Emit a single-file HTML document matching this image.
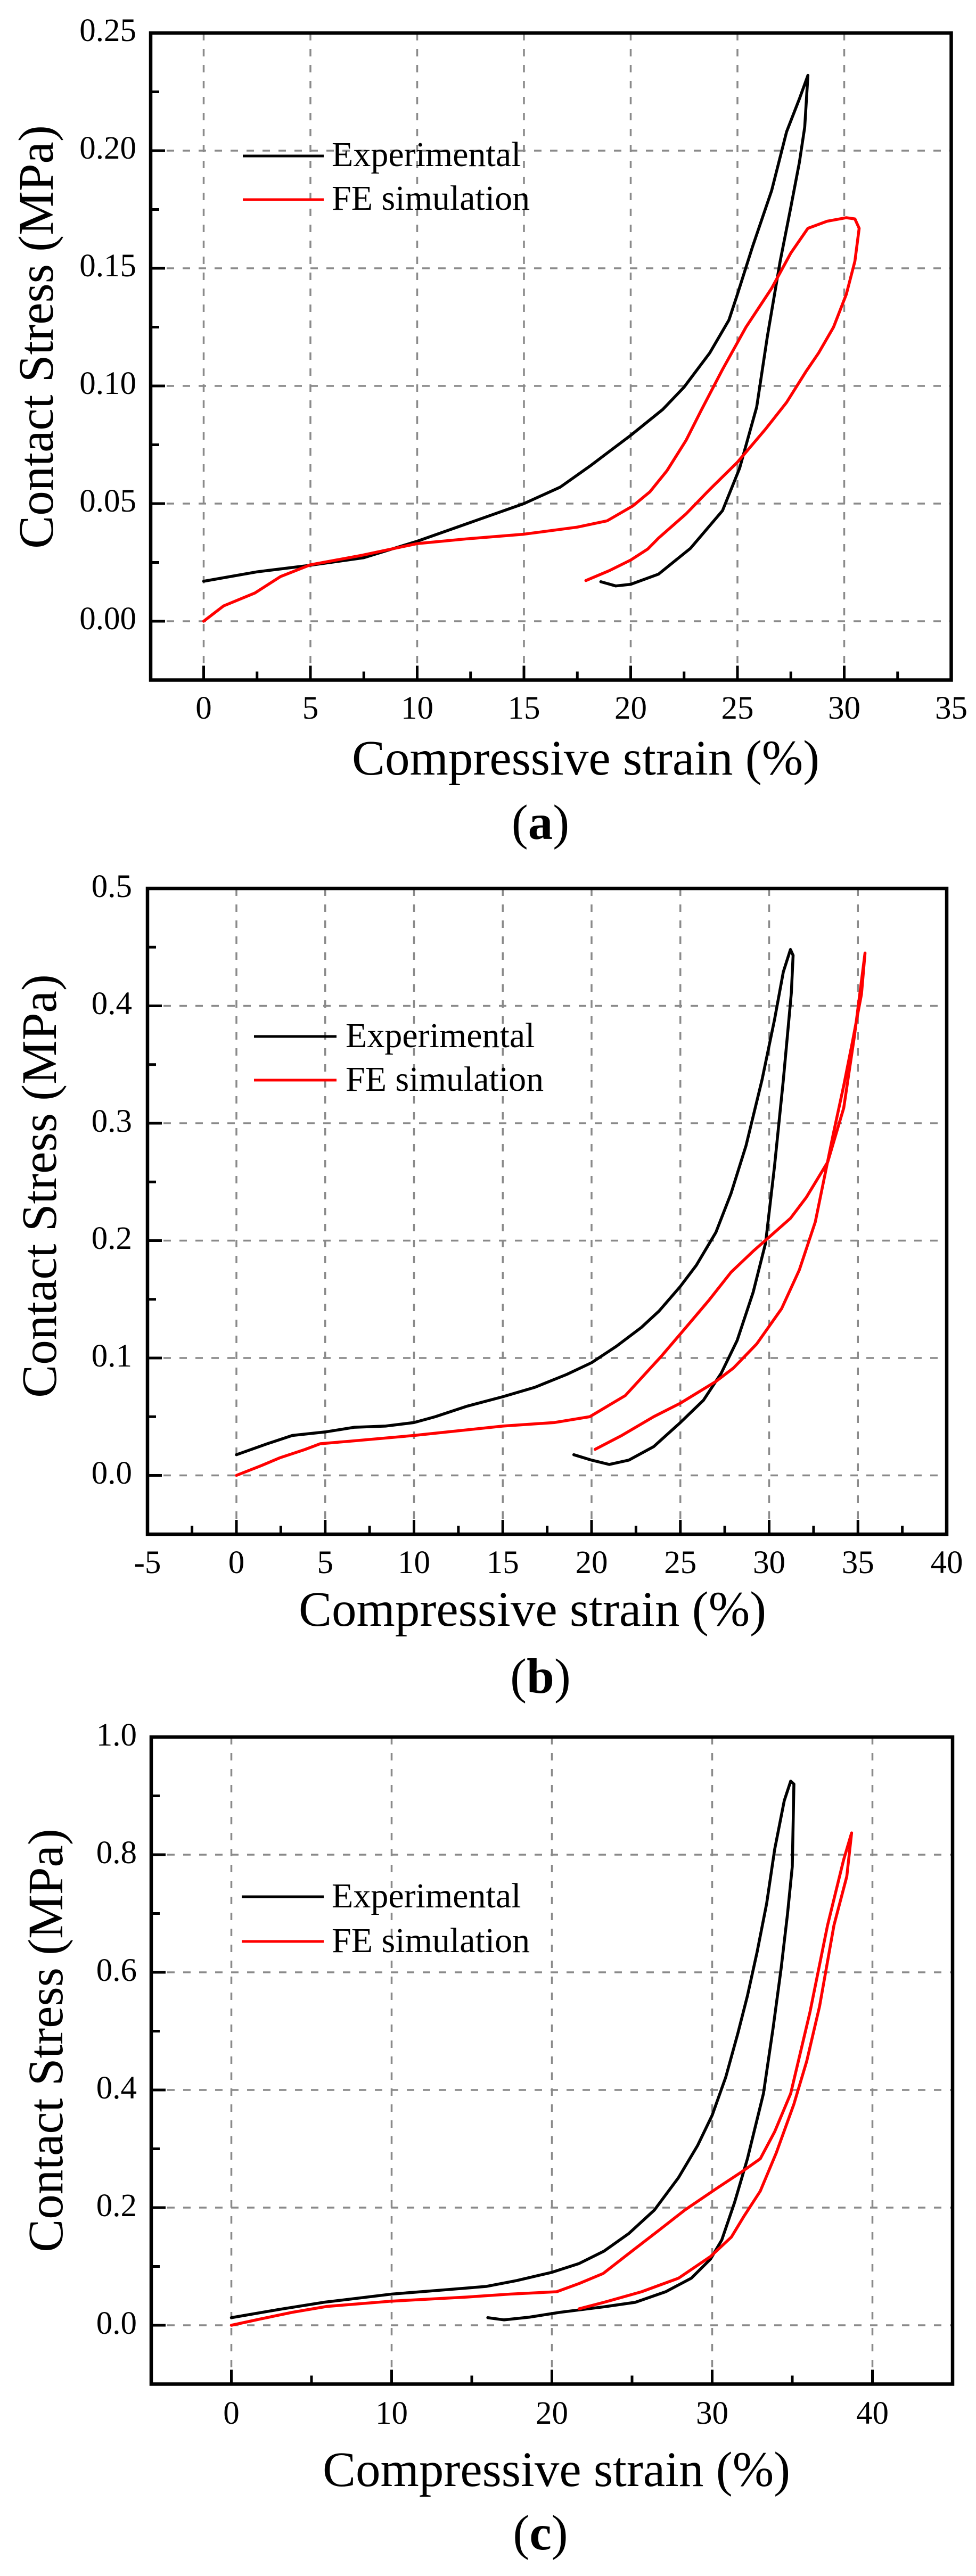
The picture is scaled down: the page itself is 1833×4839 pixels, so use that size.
<!DOCTYPE html>
<html><head><meta charset="utf-8"><style>
html,body{margin:0;padding:0;background:#fff;}
svg{display:block;}
text{font-family:"Liberation Serif","Times New Roman",serif;fill:#000;}
.g{stroke:#8a8a8a;stroke-width:3.5;stroke-dasharray:14 16;fill:none;}
.fr{fill:none;stroke:#000;stroke-width:6.5;}
.tk{stroke:#000;stroke-width:5;}
.cb{fill:none;stroke:#000;stroke-width:5.5;stroke-linejoin:round;stroke-linecap:round;}
.cr{fill:none;stroke:#ff0000;stroke-width:5.5;stroke-linejoin:round;stroke-linecap:round;}
.yl{font-size:61px;text-anchor:end;}
.xl{font-size:61px;text-anchor:middle;}
.ti{font-size:93px;}
.lg{font-size:66px;}
</style></head><body>
<svg width="1833" height="4839" viewBox="0 0 1833 4839" xmlns="http://www.w3.org/2000/svg">
<rect width="1833" height="4839" fill="#fff"/>

<!-- ================= PANEL A ================= -->
<g>
<path class="g" d="M382.5 62V1277.5M583 62V1277.5M783.5 62V1277.5M984 62V1277.5M1184.5 62V1277.5M1385 62V1277.5M1585.5 62V1277.5"/>
<path class="g" d="M283 1167H1786.5M283 946H1786.5M283 725H1786.5M283 504H1786.5M283 283H1786.5"/>
<path class="tk" d="M283 1167H310M283 946H310M283 725H310M283 504H310M283 283H310
M283 1056.5H299M283 835.5H299M283 614.5H299M283 393.5H299M283 172.5H299
M382.5 1277.5V1250.5M583 1277.5V1250.5M783.5 1277.5V1250.5M984 1277.5V1250.5M1184.5 1277.5V1250.5M1385 1277.5V1250.5M1585.5 1277.5V1250.5
M482.75 1277.5V1261.5M683.25 1277.5V1261.5M883.75 1277.5V1261.5M1084.25 1277.5V1261.5M1284.75 1277.5V1261.5M1485.25 1277.5V1261.5M1685.75 1277.5V1261.5"/>
<g transform="matrix(40.1,0,0,-4420,382.5,1167)">
<polyline class="cb" vector-effect="non-scaling-stroke" points="0,0.017 2.5,0.021 5,0.0238 7.5,0.027 10,0.034 12.5,0.042 15,0.050 16.7,0.057 18.1,0.066 20,0.079 21.5,0.090 22.5,0.0995 23.7,0.114 24.6,0.128 25,0.139 25.7,0.159 26.6,0.183 27.3,0.208 27.9,0.222 28.3,0.232 28.15,0.21 27.9,0.195 27.5,0.176 27,0.153 26.4,0.121 25.9,0.091 25.1,0.065 24.3,0.047 22.8,0.031 21.3,0.020 20,0.0157 19.3,0.015 18.6,0.0168"/>
<polyline class="cr" vector-effect="non-scaling-stroke" points="0,0 0.93,0.0065 2.4,0.012 3.6,0.019 5,0.024 7.4,0.028 10,0.033 12.3,0.035 15,0.037 17.5,0.040 18.9,0.0427 20.1,0.049 20.9,0.055 21.7,0.064 22.6,0.077 23.3,0.0896 24.3,0.107 25.4,0.125 26.6,0.1415 27.5,0.1565 28.3,0.167 29.2,0.170 30.1,0.1715 30.5,0.171 30.7,0.167 30.5,0.153 30.1,0.139 29.5,0.125 28.8,0.114 28.2,0.106 27.3,0.093 26.3,0.0815 25,0.0676 23.7,0.056 22.6,0.0457 21.3,0.0353 20.8,0.0307 20,0.026 19,0.0215 17.9,0.0173"/>
</g>
<rect class="fr" x="283" y="62" width="1503.5" height="1215.5"/>
<text class="yl" x="256" y="1182">0.00</text>
<text class="yl" x="256" y="961">0.05</text>
<text class="yl" x="256" y="740">0.10</text>
<text class="yl" x="256" y="519">0.15</text>
<text class="yl" x="256" y="298">0.20</text>
<text class="yl" x="256" y="77">0.25</text>
<text class="xl" x="382.5" y="1350">0</text>
<text class="xl" x="583" y="1350">5</text>
<text class="xl" x="783.5" y="1350">10</text>
<text class="xl" x="984" y="1350">15</text>
<text class="xl" x="1184.5" y="1350">20</text>
<text class="xl" x="1385" y="1350">25</text>
<text class="xl" x="1585.5" y="1350">30</text>
<text class="xl" x="1786.5" y="1350">35</text>
<line x1="456" y1="293" x2="608" y2="293" stroke="#000" stroke-width="5"/>
<text class="lg" x="623" y="312">Experimental</text>
<line x1="456" y1="375" x2="608" y2="375" stroke="#ff0000" stroke-width="5"/>
<text class="lg" x="623" y="394">FE simulation</text>
<text class="ti" text-anchor="middle" transform="translate(99,633) rotate(-90)">Contact Stress (MPa)</text>
<text class="ti" x="661" y="1455">Compressive strain (%)</text>
<text class="ti" x="1015" y="1576" text-anchor="middle">(<tspan font-weight="bold">a</tspan>)</text>
</g>

<!-- ================= PANEL B ================= -->
<g>
<path class="g" d="M444 1669V2882M610.75 1669V2882M777.5 1669V2882M944.25 1669V2882M1111 1669V2882M1277.75 1669V2882M1444.5 1669V2882M1611.25 1669V2882"/>
<path class="g" d="M277 2771.5H1778M277 2551H1778M277 2330.5H1778M277 2110H1778M277 1889.5H1778"/>
<path class="tk" d="M277 2771.5H304M277 2551H304M277 2330.5H304M277 2110H304M277 1889.5H304
M277 2661.25H293M277 2440.75H293M277 2220.25H293M277 1999.75H293M277 1779.25H293
M444 2882V2855M610.75 2882V2855M777.5 2882V2855M944.25 2882V2855M1111 2882V2855M1277.75 2882V2855M1444.5 2882V2855M1611.25 2882V2855
M360.6 2882V2866M527.4 2882V2866M694.1 2882V2866M860.9 2882V2866M1027.6 2882V2866M1194.4 2882V2866M1361.1 2882V2866M1527.9 2882V2866M1694.6 2882V2866"/>
<g transform="matrix(33.35,0,0,-2205,444,2771.5)">
<polyline class="cb" vector-effect="non-scaling-stroke" points="0,0.0176 1.75,0.027 3.15,0.034 5,0.037 6.65,0.041 8.4,0.042 10,0.045 11.2,0.050 13,0.059 15,0.067 16.8,0.075 18.6,0.086 20,0.096 21.4,0.110 22.8,0.126 23.8,0.140 25,0.161 25.9,0.179 27,0.207 27.85,0.240 28.7,0.281 29.6,0.337 30.3,0.388 30.8,0.429 31.2,0.448 31.35,0.443 31.25,0.411 30.8,0.337 30.3,0.263 29.8,0.198 29.1,0.156 28.2,0.115 27.3,0.087 26.3,0.064 25,0.045 23.5,0.0245 22.1,0.013 21,0.0093 20,0.013 19,0.0176"/>
<polyline class="cr" vector-effect="non-scaling-stroke" points="0,0 1.4,0.0083 2.45,0.015 3.85,0.022 4.73,0.027 6.3,0.029 10,0.034 15,0.042 17.9,0.045 19.9,0.050 21.9,0.068 23.9,0.101 25.2,0.124 26.6,0.149 27.85,0.173 29.1,0.191 30,0.203 31.2,0.219 32.1,0.237 33.3,0.267 34.2,0.313 34.8,0.374 35.4,0.445 35.2,0.41 34.7,0.37 34.2,0.332 33.6,0.29 33.1,0.253 32.6,0.216 31.7,0.175 30.7,0.142 29.3,0.112 28,0.0916 27,0.080 25,0.0615 23.5,0.050 21.7,0.034 20.2,0.0222"/>
</g>
<rect class="fr" x="277" y="1669" width="1501" height="1213"/>
<text class="yl" x="248" y="2787">0.0</text>
<text class="yl" x="248" y="2567">0.1</text>
<text class="yl" x="248" y="2346">0.2</text>
<text class="yl" x="248" y="2126">0.3</text>
<text class="yl" x="248" y="1905">0.4</text>
<text class="yl" x="248" y="1685">0.5</text>
<text class="xl" x="277" y="2955">-5</text>
<text class="xl" x="444" y="2955">0</text>
<text class="xl" x="610.75" y="2955">5</text>
<text class="xl" x="777.5" y="2955">10</text>
<text class="xl" x="944.25" y="2955">15</text>
<text class="xl" x="1111" y="2955">20</text>
<text class="xl" x="1277.75" y="2955">25</text>
<text class="xl" x="1444.5" y="2955">30</text>
<text class="xl" x="1611.25" y="2955">35</text>
<text class="xl" x="1778" y="2955">40</text>
<line x1="477" y1="1947" x2="632" y2="1947" stroke="#000" stroke-width="5"/>
<text class="lg" x="649" y="1967">Experimental</text>
<line x1="477" y1="2029" x2="632" y2="2029" stroke="#ff0000" stroke-width="5"/>
<text class="lg" x="649" y="2049">FE simulation</text>
<text class="ti" text-anchor="middle" transform="translate(105,2228) rotate(-90)">Contact Stress (MPa)</text>
<text class="ti" x="561" y="3054">Compressive strain (%)</text>
<text class="ti" x="1015" y="3180" text-anchor="middle">(<tspan font-weight="bold">b</tspan>)</text>
</g>

<!-- ================= PANEL C ================= -->
<g>
<path class="g" d="M434.5 3263V4478.5M735.5 3263V4478.5M1036.5 3263V4478.5M1337.5 3263V4478.5M1638.5 3263V4478.5"/>
<path class="g" d="M284 4368H1789M284 4147H1789M284 3926H1789M284 3705H1789M284 3484H1789"/>
<path class="tk" d="M284 4368H311M284 4147H311M284 3926H311M284 3705H311M284 3484H311
M284 4257.5H300M284 4036.5H300M284 3815.5H300M284 3594.5H300M284 3373.5H300
M434.5 4478.5V4451.5M735.5 4478.5V4451.5M1036.5 4478.5V4451.5M1337.5 4478.5V4451.5M1638.5 4478.5V4451.5
M585 4478.5V4462.5M886 4478.5V4462.5M1187 4478.5V4462.5M1488 4478.5V4462.5"/>
<g transform="matrix(30.1,0,0,-1105,434.5,4368)">
<polyline class="cb" vector-effect="non-scaling-stroke" points="0,0.0129 3,0.027 5.75,0.039 10,0.053 12.75,0.059 15.9,0.066 17.8,0.076 20,0.090 21.7,0.105 23.25,0.126 24.8,0.156 26.4,0.196 27.9,0.251 29.1,0.306 30,0.357 30.85,0.422 31.6,0.496 32.2,0.560 32.8,0.634 33.4,0.717 33.9,0.809 34.5,0.892 34.9,0.925 35.1,0.920 35,0.78 34.7,0.699 34.3,0.606 33.8,0.505 33.2,0.394 32.2,0.283 31.4,0.209 30.6,0.145 29.9,0.1126 28.7,0.080 27.1,0.057 25.2,0.039 23.25,0.0314 20.5,0.022 18.6,0.0138 17,0.0092 16,0.0129"/>
<polyline class="cr" vector-effect="non-scaling-stroke" points="0,0 1.87,0.011 3.8,0.022 5.95,0.032 10,0.041 14.7,0.048 17.4,0.053 20.3,0.057 21.7,0.071 23.2,0.088 24.8,0.122 26.75,0.163 28.3,0.196 30.3,0.233 31.8,0.260 33,0.283 33.9,0.329 34.9,0.394 36.1,0.532 37.2,0.680 38.2,0.791 38.7,0.837 38.4,0.763 37.6,0.680 36.7,0.542 35.9,0.449 35.1,0.376 34,0.293 33,0.228 32,0.186 31.2,0.150 29.9,0.117 27.9,0.080 25.6,0.057 23.25,0.039 21.7,0.028"/>
</g>
<rect class="fr" x="284" y="3263" width="1505" height="1215.5"/>
<text class="yl" x="257" y="4384">0.0</text>
<text class="yl" x="257" y="4163">0.2</text>
<text class="yl" x="257" y="3942">0.4</text>
<text class="yl" x="257" y="3721">0.6</text>
<text class="yl" x="257" y="3500">0.8</text>
<text class="yl" x="257" y="3279">1.0</text>
<text class="xl" x="434.5" y="4553">0</text>
<text class="xl" x="735.5" y="4553">10</text>
<text class="xl" x="1036.5" y="4553">20</text>
<text class="xl" x="1337.5" y="4553">30</text>
<text class="xl" x="1638.5" y="4553">40</text>
<line x1="454" y1="3563" x2="608" y2="3563" stroke="#000" stroke-width="5"/>
<text class="lg" x="623" y="3583">Experimental</text>
<line x1="454" y1="3647" x2="608" y2="3647" stroke="#ff0000" stroke-width="5"/>
<text class="lg" x="623" y="3667">FE simulation</text>
<text class="ti" text-anchor="middle" transform="translate(117,3833) rotate(-90)">Contact Stress (MPa)</text>
<text class="ti" x="606" y="4670">Compressive strain (%)</text>
<text class="ti" x="1015" y="4789" text-anchor="middle">(<tspan font-weight="bold">c</tspan>)</text>
</g>
</svg>
</body></html>
